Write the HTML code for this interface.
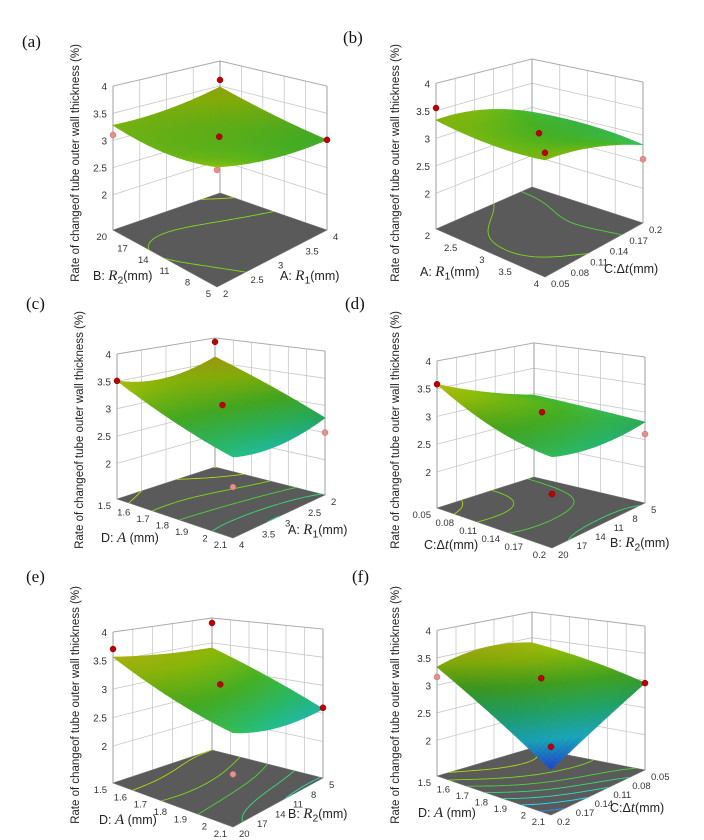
<!DOCTYPE html>
<html><head><meta charset="utf-8">
<style>
body{margin:0;background:#fff;}
#wrap{position:relative;width:704px;height:840px;overflow:hidden;background:#fff;}
svg{position:absolute;left:0;top:0;}
.lbl{position:absolute;font-family:"Liberation Serif",serif;font-size:17px;color:#111;}
.ax{position:absolute;font-family:"Liberation Sans",sans-serif;font-size:12.5px;color:#222;white-space:nowrap;}
.ax i{font-family:"Liberation Serif",serif;font-size:15px;}
.yt{position:absolute;font-family:"Liberation Sans",sans-serif;font-size:11.5px;color:#222;white-space:nowrap;transform:translate(-50%,-50%) rotate(-90deg);}
</style></head>
<body>
<div id="wrap">
<svg id="sv" width="704" height="840"></svg>
<div class="lbl" style="left:22px;top:32px">(a)</div>
<div class="lbl" style="left:343px;top:28px">(b)</div>
<div class="lbl" style="left:26px;top:294px">(c)</div>
<div class="lbl" style="left:345px;top:294px">(d)</div>
<div class="lbl" style="left:26px;top:567px">(e)</div>
<div class="lbl" style="left:352px;top:567px">(f)</div>

<div class="yt" style="left:76px;top:163px">Rate of changeof tube outer wall thickness (%)</div>
<div class="yt" style="left:396px;top:163px">Rate of changeof tube outer wall thickness (%)</div>
<div class="yt" style="left:80px;top:430px">Rate of changeof tube outer wall thickness (%)</div>
<div class="yt" style="left:396px;top:430px">Rate of changeof tube outer wall thickness (%)</div>
<div class="yt" style="left:76px;top:705px">Rate of changeof tube outer wall thickness (%)</div>
<div class="yt" style="left:396px;top:705px">Rate of changeof tube outer wall thickness (%)</div>

<div class="ax" style="left:93px;top:268px">B: <i>R</i><sub>2</sub>(mm)</div>
<div class="ax" style="left:280px;top:268px">A: <i>R</i><sub>1</sub>(mm)</div>
<div class="ax" style="left:420px;top:264px">A: <i>R</i><sub>1</sub>(mm)</div>
<div class="ax" style="left:604px;top:261px">C:Δ<i>t</i>(mm)</div>
<div class="ax" style="left:101px;top:530px">D: <i>A</i> (mm)</div>
<div class="ax" style="left:288px;top:522px">A: <i>R</i><sub>1</sub>(mm)</div>
<div class="ax" style="left:424px;top:537px">C:Δ<i>t</i>(mm)</div>
<div class="ax" style="left:610px;top:535px">B: <i>R</i><sub>2</sub>(mm)</div>
<div class="ax" style="left:99px;top:812px">D: <i>A</i> (mm)</div>
<div class="ax" style="left:288px;top:806px">B: <i>R</i><sub>2</sub>(mm)</div>
<div class="ax" style="left:418px;top:805px">D: <i>A</i> (mm)</div>
<div class="ax" style="left:610px;top:800px">C:Δ<i>t</i>(mm)</div>
</div>
<script>
// z grids (3x3): rows s = back..left edge (0,0.5,1), columns t = 0,0.5,1
const zA=[[3.48,3.2,3.01],[3.3,3.15,3.1],[3.28,3.2,3.35]];
const zB=[[2.9,2.93,2.82],[3.25,3.07,3.17],[3.33,3.24,3.3]];
const zC=[[3.61,3.2,2.77],[3.38,3.09,2.6],[3.51,3.03,2.7]];
const zD=[[2.97,2.9,2.82],[3.24,3.1,2.74],[3.58,3.08,2.87]];
const zE=[[3.4,3.0,2.58],[3.45,3.13,2.62],[3.56,3.13,2.87]];
const zF=[[3.4,3.22,2.95],[3.5,3.13,2.5],[3.33,2.7,2.08]];
const zTicks=[2,2.5,3,3.5,4];
const ticksLeftA=["20","17","14","11","8","5"], ticksRightA=["2","2.5","3","3.5","4"];
const ticksLeftB=["2","2.5","3","3.5","4"], ticksRightB=["0.05","0.08","0.11","0.14","0.17","0.2"];
const ticksLeftC=["1.5","1.6","1.7","1.8","1.9","2","2.1"], ticksRightC=["4","3.5","3","2.5","2"];
const ticksLeftD=["0.05","0.08","0.11","0.14","0.17","0.2"], ticksRightD=["20","17","14","11","8","5"];
const ticksLeftE=["1.5","1.6","1.7","1.8","1.9","2","2.1"], ticksRightE=["20","17","14","11","8","5"];
const ticksLeftF=["1.5","1.6","1.7","1.8","1.9","2","2.1"], ticksRightF=["0.2","0.17","0.14","0.11","0.08","0.05"];
// design points [s,t,z,kind]
const ptsA=[[0,0,3.62,1],[0.5,0.5,3.15,1],[0,1,3.01,1],[1,0,3.1,0],[1,1,3.3,0]];
const ptsB=[[1,0,3.55,1],[0.5,0.5,3.12,1],[1,1,3.42,1],[0,1,2.55,0]];
const ptsC=[[0,0,3.92,1],[1,0,3.51,1],[0.5,0.5,3.09,1],[0,1,2.5,0],[1,1,2.2,0]];
const ptsD=[[1,0,3.58,1],[0.5,0.5,3.1,1],[1,1,2.25,1],[0,1,2.6,0]];
const ptsE=[[0,0,3.9,1],[1,0,3.7,1],[0.5,0.5,3.13,1],[0,1,2.6,1],[1,1,2.2,0]];
const ptsF=[[1,0,3.15,0],[0.5,0.5,3.13,1],[0,1,2.95,1],[1,1,2.45,1]];

const ZF=1.35, ZT=4;
const panels=[
 {id:'a',B:[220,193],L:[113,230],R:[327,230],F:[217,287],per:[49.8,54.3,54.3,60],z:zA,tl:ticksLeftA,tr:ticksRightA,pts:ptsA},
 {id:'b',B:[532,187],L:[436,229],R:[643,223],F:[545,277],per:[48.3,55,53.2,60],z:zB,tl:ticksLeftB,tr:ticksRightB,pts:ptsB},
 {id:'c',B:[215,467],L:[117,499],R:[325,495],F:[233,538],per:[48.7,54.7,54.3,60],z:zC,tl:ticksLeftC,tr:ticksRightC,pts:ptsC},
 {id:'d',B:[534,477],L:[437,508],R:[645,503],F:[552,548],per:[50.6,55.5,55.1,60],z:zD,tl:ticksLeftD,tr:ticksRightD,pts:ptsD},
 {id:'e',B:[212,750],L:[113,783],R:[323,778],F:[233,827],per:[49.8,57,56.2,62],z:zE,tl:ticksLeftE,tr:ticksRightE,pts:ptsE},
 {id:'f',B:[532,748],L:[437,776],R:[645,770],F:[551,815],per:[51.3,55,54.3,62],z:zF,tl:ticksLeftF,tr:ticksRightF,pts:ptsF}
];
const NS='http://www.w3.org/2000/svg';
const sv=document.getElementById('sv');
function mk(tag,attrs,parent){const e=document.createElementNS(NS,tag);for(const k in attrs)e.setAttribute(k,attrs[k]);(parent||sv).appendChild(e);return e;}
function proj(P,s,t,z){
  const w=[(1-s)*(1-t),s*(1-t),(1-s)*t,s*t];
  const x=w[0]*P.B[0]+w[1]*P.L[0]+w[2]*P.R[0]+w[3]*P.F[0];
  const y=w[0]*P.B[1]+w[1]*P.L[1]+w[2]*P.R[1]+w[3]*P.F[1];
  const per=w[0]*P.per[0]+w[1]*P.per[1]+w[2]*P.per[2]+w[3]*P.per[3];
  return [x,y-(z-ZF)*per];
}
function q(x){return [2*(x-0.5)*(x-1),-4*x*(x-1),2*x*(x-0.5)];}
function zAt(P,s,t){const a=q(s),b=q(t);let v=0;for(let i=0;i<3;i++)for(let j=0;j<3;j++)v+=a[i]*b[j]*P.z[i][j];return v;}
const stops=[[2.0,[40,50,235]],[2.4,[30,190,215]],[2.75,[40,185,110]],[3.05,[70,175,35]],[3.35,[140,185,10]],[3.65,[185,170,20]],[3.95,[200,120,20]]];
function col(z,f){f=f||1;let c=stops[0][1];
  if(z>=stops[stops.length-1][0])c=stops[stops.length-1][1];
  else for(let i=0;i<stops.length-1;i++){if(z>=stops[i][0]&&z<stops[i+1][0]){const r=(z-stops[i][0])/(stops[i+1][0]-stops[i][0]);c=stops[i][1].map((v,k)=>v+(stops[i+1][1][k]-v)*r);break;}}
  return 'rgb('+c.map(v=>Math.round(Math.min(255,v*f))).join(',')+')';}
function pt(a){return a[0].toFixed(1)+','+a[1].toFixed(1);}

panels.forEach(P=>{
  const g=mk('g',{});
  
  
  const nS=P.tr.length-1, nT=P.tl.length-1;
  zTicks.forEach(z=>{
    const l=mk('polyline',{points:[proj(P,1,0,z),proj(P,0,0,z),proj(P,0,1,z)].map(pt).join(' '),fill:'none',stroke:'#c8c8c8','stroke-width':0.8},g);
    
    
  });
  for(let k=0;k<=nS;k++){const s=k/nS;mk('line',{x1:proj(P,s,0,ZF)[0],y1:proj(P,s,0,ZF)[1],x2:proj(P,s,0,ZT)[0],y2:proj(P,s,0,ZT)[1],stroke:'#c8c8c8','stroke-width':0.8},g);}
  for(let k=0;k<=nT;k++){const t=k/nT;mk('line',{x1:proj(P,0,t,ZF)[0],y1:proj(P,0,t,ZF)[1],x2:proj(P,0,t,ZT)[0],y2:proj(P,0,t,ZT)[1],stroke:'#c8c8c8','stroke-width':0.8},g);}
  mk('polyline',{points:[proj(P,1,0,ZT),proj(P,0,0,ZT),proj(P,0,1,ZT)].map(pt).join(' '),fill:'none',stroke:'#aaa','stroke-width':0.9},g);
  [[1,0],[0,1],[0,0]].forEach(c=>{mk('line',{x1:proj(P,c[0],c[1],ZF)[0],y1:proj(P,c[0],c[1],ZF)[1],x2:proj(P,c[0],c[1],ZT)[0],y2:proj(P,c[0],c[1],ZT)[1],stroke:'#999','stroke-width':0.9},g);});
  const fl=mk('polygon',{points:[proj(P,0,0,ZF),proj(P,1,0,ZF),proj(P,1,1,ZF),proj(P,0,1,ZF)].map(pt).join(' '),fill:'#5a5a5a',stroke:'#777','stroke-width':0.6},g);
  
  
  const M=36;
  const grid=[];for(let i=0;i<=M;i++){grid.push([]);for(let j=0;j<=M;j++)grid[i].push(zAt(P,i/M,j/M));}
  for(let lv=2.0;lv<=4.0;lv+=0.2){
    let dd='';
    for(let i=0;i<M;i++)for(let j=0;j<M;j++){
      const c=[[i,j],[i+1,j],[i+1,j+1],[i,j+1]];const cr=[];
      for(let e=0;e<4;e++){const a=c[e],b=c[(e+1)%4];const za=grid[a[0]][a[1]],zb=grid[b[0]][b[1]];
        if((za-lv)*(zb-lv)<0){const r=(lv-za)/(zb-za);cr.push(proj(P,(a[0]+(b[0]-a[0])*r)/M,(a[1]+(b[1]-a[1])*r)/M,ZF));}}
      for(let k=0;k+1<cr.length;k+=2)dd+='M'+pt(cr[k])+'L'+pt(cr[k+1]);
    }
    if(dd){const p=mk('path',{d:dd,fill:'none',stroke:col(lv,1.2),'stroke-width':0.9},g);
      
      }
  }
  zTicks.forEach(z=>{const p=proj(P,1,0,z);const t=mk('text',{x:p[0]-6,y:p[1]+4,'text-anchor':'end','font-family':'Liberation Sans, sans-serif','font-size':10,fill:'#333'},g);t.textContent=String(z);
    
    });
  P.tl.forEach((lab,k)=>{const p=proj(P,1,k/nT,ZF);const t=mk('text',{x:p[0]-6,y:p[1]+10,'text-anchor':'end','font-family':'Liberation Sans, sans-serif','font-size':9.5,fill:'#333'},g);t.textContent=lab;
    
    });
  P.tr.forEach((lab,k)=>{const p=proj(P,1-k/nS,1,ZF);const t=mk('text',{x:p[0]+6,y:p[1]+10,'text-anchor':'start','font-family':'Liberation Sans, sans-serif','font-size':9.5,fill:'#333'},g);t.textContent=lab;
    
    });
  const N=34;const sg=mk('g',{},g);
  
  
  const cells=[];for(let i=0;i<N;i++)for(let j=0;j<N;j++)cells.push([i,j]);
  cells.sort((a,b)=>(a[0]+a[1])-(b[0]+b[1]));
  cells.forEach(([i,j])=>{
    const s0=i/N,s1=(i+1)/N,t0=j/N,t1=(j+1)/N;
    const z00=zAt(P,s0,t0),z10=zAt(P,s1,t0),z11=zAt(P,s1,t1),z01=zAt(P,s0,t1);
    const zm=(z00+z10+z11+z01)/4;
    const slope=(z11+z10-z00-z01)*N*0.06;
    const f=Math.max(0.6,Math.min(1.08,0.97+slope));
    const c=col(zm,f);
    mk('polygon',{points:[proj(P,s0,t0,z00),proj(P,s1,t0,z10),proj(P,s1,t1,z11),proj(P,s0,t1,z01)].map(pt).join(' '),fill:c,stroke:c,'stroke-width':0.6},sg);
  });
  P.pts.forEach(p=>{const q2=proj(P,p[0],p[1],p[2]);const c=mk('circle',{cx:q2[0],cy:q2[1],r:3,fill:p[3]?'#c00000':'#e89090',stroke:p[3]?'#700':'#b66','stroke-width':0.5},g);
    
    });
});
</script>
</body></html>
